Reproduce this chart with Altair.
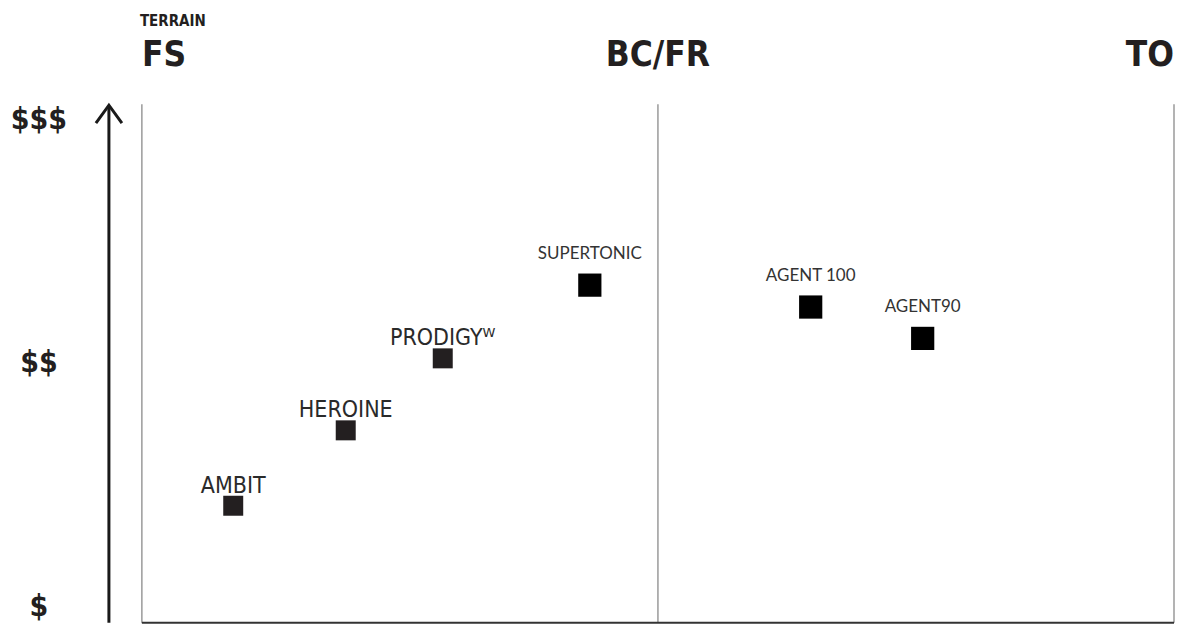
import altair as alt
import pandas as pd

# ---- data ----
terrain = ["FS", "BC/FR", "TO"]
terrain_pos = [0, 1, 2]
price_labels = ["$", "$$", "$$$"]
price_pos = [1, 2, 3]
skis = ["AMBIT", "HEROINE", "PRODIGYᵂ", "SUPERTONIC", "AGENT 100", "AGENT90"]
ski_terrain = [0.177, 0.395, 0.583, 0.868, 1.296, 1.513]
ski_price = [1.415, 1.725, 2.021, 2.322, 2.232, 2.103]
condensed_group = ["AMBIT", "HEROINE", "PRODIGYᵂ"]

Y_MIN, Y_MAX = 0.934, 3.066
X_MIN, X_MAX = 0, 2
W, H = 1033, 519

terr_df = pd.DataFrame({"name": terrain, "pos": terrain_pos, "idx": range(len(terrain))})
price_df = pd.DataFrame({"label": price_labels, "pos": price_pos})
ski_df = pd.DataFrame({"name": skis, "terrain": ski_terrain, "price": ski_price})
ski_df["group"] = ["A" if n in condensed_group else "B" for n in skis]

xs = alt.Scale(domain=[X_MIN, X_MAX], nice=False, zero=False)
ys = alt.Scale(domain=[Y_MIN, Y_MAX], nice=False, zero=False)
X = lambda f: alt.X(f, scale=xs, axis=None)
Y = lambda f: alt.Y(f, scale=ys, axis=None)

HEAD_FONT = "DejaVu Sans Condensed, Roboto Condensed, Roboto, sans-serif"
LAB_FONT = "DejaVu Sans Condensed, Roboto, sans-serif"
SMALL_FONT = "Lato, Roboto, sans-serif"
INK = "#231f20"

# frame: vertical lines at terrain positions
vlines = alt.Chart(terr_df).mark_rule(color="#8a8a8a", strokeWidth=1.3).encode(
    x=X("pos:Q"), y=alt.datum(Y_MIN, scale=ys, axis=None), y2=alt.datum(Y_MAX)
)
# bottom line
bottom = alt.Chart(pd.DataFrame({"a": [X_MIN], "b": [X_MAX]})).mark_rule(
    color="#333333", strokeWidth=2
).encode(x=X("a:Q"), x2="b:Q", y=alt.datum(Y_MIN, scale=ys, axis=None))

# arrow
arrow_shaft = alt.Chart(pd.DataFrame({"k": [0]})).mark_rule(
    color="#1a1a1a", strokeWidth=3
).encode(x=alt.value(-33), y=alt.value(2), y2=alt.value(H))
arrow_head = alt.Chart(pd.DataFrame({"k": [0]})).mark_point(
    shape="M -1 1.38 L 0 0 L 1 1.38", filled=False, stroke="#1a1a1a",
    strokeWidth=3, size=676, opacity=1
).encode(x=alt.value(-33), y=alt.value(1))

# terrain header
terrain_title = alt.Chart(pd.DataFrame({"t": ["TERRAIN"]})).mark_text(
    font=HEAD_FONT, fontWeight="bold", fontSize=15, color=INK, align="left",
    baseline="alphabetic"
).encode(text="t:N", x=alt.value(-2), y=alt.value(-78))

def head(idx, align):
    return alt.Chart(terr_df).transform_filter(f"datum.idx == {idx}").mark_text(
        font=HEAD_FONT, fontWeight="bold", fontSize=35, color=INK, align=align,
        baseline="alphabetic"
    ).encode(text="name:N", x=X("pos:Q"), y=alt.value(-38))

heads = [head(0, "left"), head(1, "center"), head(2, "right")]

# price labels
prices = alt.Chart(price_df).mark_text(
    font=HEAD_FONT, fontWeight="bold", fontSize=30, color=INK, align="center",
    baseline="middle"
).encode(text="label:N", x=alt.value(-103), y=Y("pos:Q"))

# squares
sq_a = alt.Chart(ski_df).transform_filter("datum.group == 'A'").mark_square(
    size=400, color="#231f20", opacity=1
).encode(x=X("terrain:Q"), y=Y("price:Q"))
sq_b = alt.Chart(ski_df).transform_filter("datum.group == 'B'").mark_square(
    size=540, color="#000000", opacity=1
).encode(x=X("terrain:Q"), y=Y("price:Q"))

lab_a = alt.Chart(ski_df).transform_filter("datum.group == 'A'").mark_text(
    font=LAB_FONT, fontSize=23, color="#2a2a2a", align="center",
    baseline="alphabetic", dy=-13
).encode(text="name:N", x=X("terrain:Q"), y=Y("price:Q"))
lab_b = alt.Chart(ski_df).transform_filter("datum.group == 'B'").mark_text(
    font=SMALL_FONT, fontSize=17, color="#333333", align="center",
    baseline="alphabetic", dy=-26
).encode(text="name:N", x=X("terrain:Q"), y=Y("price:Q"))

chart = alt.layer(
    vlines, bottom, arrow_shaft, arrow_head, terrain_title, *heads, prices,
    sq_a, sq_b, lab_a, lab_b
).properties(
    width=W, height=H,
    autosize="none",
    background="white",
    padding={"left": 134, "top": 96, "right": 2, "bottom": 4},
).configure_view(stroke=None)

chart.save("out.html", embed_options={"renderer": "svg", "actions": False})
